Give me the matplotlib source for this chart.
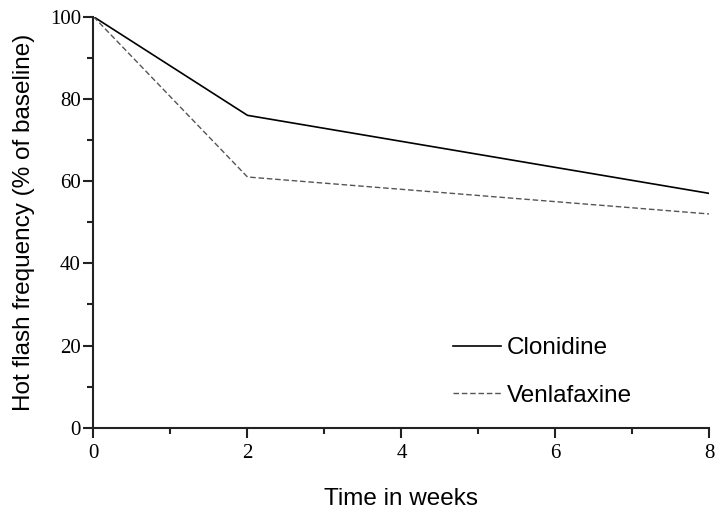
import matplotlib
matplotlib.use("Agg")
import matplotlib.pyplot as plt
from matplotlib.ticker import MultipleLocator

# data
weeks = [0, 2, 8]
clonidine = [100, 76, 57]
venlafaxine = [100, 61, 52]

fig = plt.figure(figsize=(7.17, 5.12), dpi=100)
ax = fig.add_axes([0.1304, 0.1646, 0.8591, 0.8028])

ax.plot(weeks, clonidine, color="black", lw=1.2, label="Clonidine")
ax.plot(weeks, venlafaxine, color="#555555", lw=1.0, ls=(0, (4, 2)), label="Venlafaxine")

ax.set_xlim(0, 8)
ax.set_ylim(0, 100)
ax.xaxis.set_major_locator(MultipleLocator(2))
ax.xaxis.set_minor_locator(MultipleLocator(1))
ax.yaxis.set_major_locator(MultipleLocator(20))
ax.yaxis.set_minor_locator(MultipleLocator(10))

for s in ["top", "right"]:
    ax.spines[s].set_visible(False)
for s in ["left", "bottom"]:
    ax.spines[s].set_linewidth(1.5)
    ax.spines[s].set_color("#222222")

ax.tick_params(which="major", direction="out", length=7, width=1.5, color="#222222",
               labelsize=15)
ax.tick_params(axis="x", which="major", pad=5)
ax.tick_params(axis="y", which="major", pad=2)
ax.tick_params(which="minor", direction="out", length=4, width=1.5, color="#222222")
for lab in ax.get_xticklabels() + ax.get_yticklabels():
    lab.set_family("Liberation Serif")

ax.set_xlabel("Time in weeks", family="Liberation Sans", fontsize=17.5, labelpad=18)
ax.set_ylabel("Hot flash frequency (% of baseline)", family="Liberation Sans", fontsize=17.5, labelpad=11)

leg = ax.legend(loc="upper left", bbox_to_anchor=(0.584, 0.220), frameon=False,
                prop={"family": "Liberation Sans", "size": 17.5},
                borderpad=0, borderaxespad=0,
                handlelength=1.95, handletextpad=0.25, labelspacing=1.05)

fig.savefig("out.png", dpi=100)
